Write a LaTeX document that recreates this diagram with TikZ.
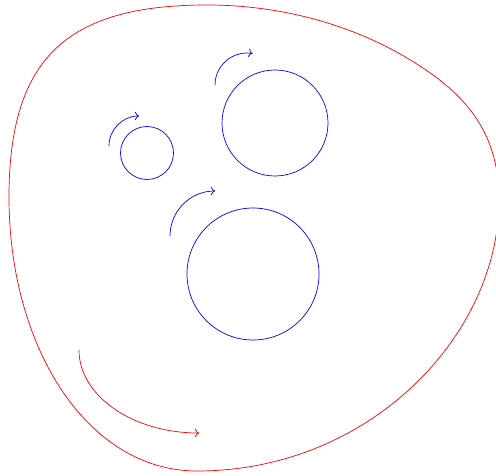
\documentclass[tikz,border=0pt]{standalone}
\usepackage{xcolor}
\usepackage{tikz}
\usetikzlibrary{arrows.meta}

\begin{document}
\begin{tikzpicture}[x=1pt, y=1pt, line width=0.7pt, >={To[scale=1.3]}]
    \useasboundingbox (0,0) rectangle (496,475);

    % Outer boundary
    \draw[red] (207,470) .. controls (287,470) and (368,447) .. (433,400)
                         .. controls (477.5,367.7) and (499,330) .. (499,275)
                         .. controls (499,140) and (370,4) .. (197,4)
                         .. controls (87,4) and (9,128) .. (9,278)
                         .. controls (9,418) and (68,470) .. cycle;

    % Outer orientation
    \draw[red, ->] (79,125) arc (180:270:120 and 83);

    % Holes with their orientation
    \foreach \cx/\cy/\rad/\ax/\ay/\ar/\ae in {147/322/26.5/109/329/30/90,
                                              275/352/53/215/390/32/80,
                                              253/201/66/170/239/45/90} {
      \draw[blue] (\cx,\cy) circle (\rad);
      \draw[blue, ->] (\ax,\ay) arc (180:\ae:\ar);
    }

\end{tikzpicture}
\end{document}
